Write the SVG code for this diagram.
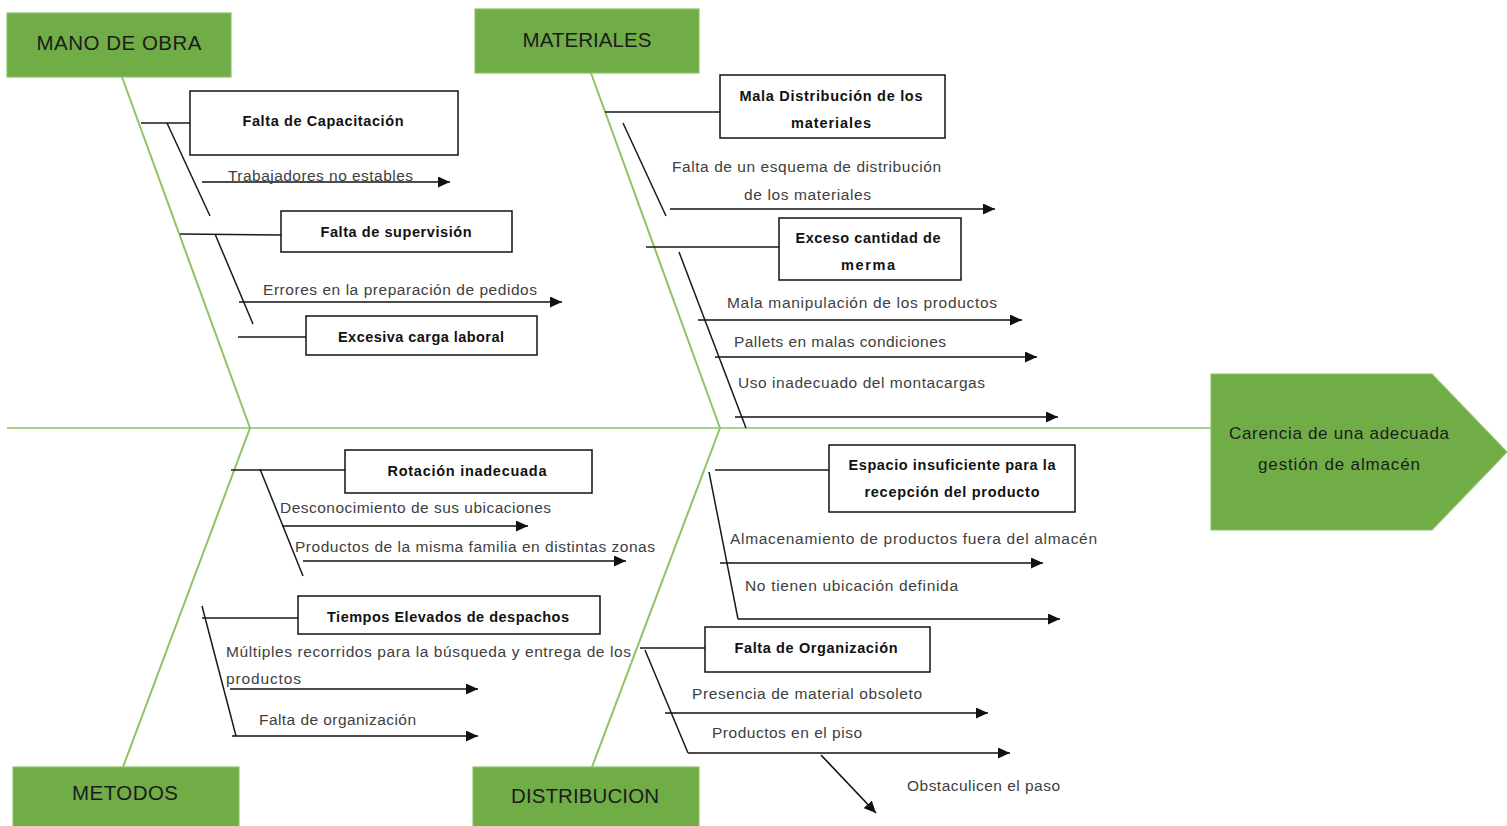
<svg xmlns="http://www.w3.org/2000/svg" width="1507" height="826" viewBox="0 0 1507 826">
<style>
.cat{fill:#70AD47;stroke:#8CC266;stroke-width:1.2}
.cattxt{font-family:"Liberation Sans",Arial,sans-serif;font-size:20.5px;fill:#1c1c1c;text-anchor:middle}
.headtxt{font-family:"Liberation Sans",Arial,sans-serif;font-size:17px;fill:#1c1c1c;text-anchor:middle}
.box{fill:#ffffff;stroke:#111111;stroke-width:1.5}
.btxt{font-family:"Liberation Sans",Arial,sans-serif;font-size:14.5px;font-weight:bold;fill:#111111;text-anchor:middle}
.ntxt{font-family:"Liberation Sans",Arial,sans-serif;font-size:15.5px;fill:#404040}
.bone{stroke:#8EC465;stroke-width:2;fill:none}
.spine{stroke:#A8D18C;stroke-width:2;fill:none}
.sub{stroke:#1a1a1a;stroke-width:1.5;fill:none}
.arr{stroke:#111111;stroke-width:1.6;fill:none;marker-end:url(#ah)}
</style>
<defs>
<marker id="ah" markerUnits="userSpaceOnUse" markerWidth="13" markerHeight="11" refX="12" refY="5.5" orient="auto">
<path d="M0,0 L12,5.5 L0,11 Z" fill="#111111"/>
</marker>
</defs>
<rect x="0" y="0" width="1507" height="826" fill="#ffffff"/>

<g id="connectors">
<line class="spine" x1="7" y1="428" x2="1211" y2="428"/>
<line class="bone" x1="122" y1="77" x2="250" y2="428"/>
<line class="bone" x1="250" y1="428" x2="123" y2="767"/>
<line class="bone" x1="591" y1="73" x2="720" y2="428"/>
<line class="bone" x1="720" y1="428" x2="592" y2="767"/>

<line class="sub" x1="141" y1="123" x2="190" y2="123"/>
<line class="sub" x1="167" y1="123" x2="210" y2="216"/>
<line class="arr" x1="202" y1="182" x2="450" y2="182"/>
<line class="sub" x1="180" y1="234" x2="281" y2="235"/>
<line class="sub" x1="215" y1="234" x2="253" y2="324"/>
<line class="arr" x1="239" y1="302" x2="562" y2="302"/>
<line class="sub" x1="238" y1="337" x2="306" y2="337"/>

<line class="sub" x1="605" y1="112" x2="720" y2="112"/>
<line class="sub" x1="623" y1="123" x2="666" y2="216"/>
<line class="arr" x1="670" y1="209" x2="995" y2="209"/>
<line class="sub" x1="646" y1="247" x2="779" y2="247"/>
<line class="sub" x1="679" y1="252" x2="746" y2="428"/>
<line class="arr" x1="698" y1="320" x2="1022" y2="320"/>
<line class="arr" x1="715" y1="357" x2="1037" y2="357"/>
<line class="arr" x1="735" y1="417" x2="1058" y2="417"/>

<line class="sub" x1="231" y1="470" x2="345" y2="470"/>
<line class="sub" x1="260" y1="469" x2="303" y2="576"/>
<line class="arr" x1="282" y1="526" x2="528" y2="526"/>
<line class="arr" x1="303" y1="561" x2="626" y2="561"/>
<line class="sub" x1="202" y1="618" x2="298" y2="618"/>
<line class="sub" x1="202" y1="606" x2="236" y2="736"/>
<line class="arr" x1="230" y1="689" x2="478" y2="689"/>
<line class="arr" x1="232" y1="736" x2="478" y2="736"/>

<line class="sub" x1="715" y1="470" x2="829" y2="470"/>
<line class="sub" x1="709" y1="472" x2="738" y2="619"/>
<line class="arr" x1="720" y1="563" x2="1043" y2="563"/>
<line class="arr" x1="738" y1="619" x2="1060" y2="619"/>
<line class="sub" x1="640" y1="648" x2="705" y2="648"/>
<line class="sub" x1="645" y1="650" x2="688" y2="753"/>
<line class="arr" x1="665" y1="713" x2="988" y2="713"/>
<line class="arr" x1="688" y1="753" x2="1010" y2="753"/>
<line class="arr" x1="821" y1="755" x2="876" y2="813"/>
</g>

<g id="cat-mano-de-obra">
<rect class="cat" x="7" y="13" width="224" height="64"/>
<text class="cattxt" x="119" y="50" textLength="165">MANO DE OBRA</text>
</g>
<g id="cat-materiales">
<rect class="cat" x="475" y="9" width="224" height="64"/>
<text class="cattxt" x="587" y="47" textLength="129">MATERIALES</text>
</g>
<g id="cat-metodos">
<rect class="cat" x="13" y="767" width="226" height="62"/>
<text class="cattxt" x="125" y="800" textLength="106">METODOS</text>
</g>
<g id="cat-distribucion">
<rect class="cat" x="473" y="767" width="226" height="62"/>
<text class="cattxt" x="585" y="803" textLength="148">DISTRIBUCION</text>
</g>

<g id="head">
<polygon class="cat" points="1211,374 1432,374 1507,452 1432,530 1211,530"/>
<text class="headtxt" x="1339" y="439" textLength="220">Carencia de una adecuada</text>
<text class="headtxt" x="1339" y="470" textLength="162">gestión de almacén</text>
</g>

<g id="box-falta-capacitacion">
<rect class="box" x="190" y="91" width="268" height="64"/>
<text class="btxt" x="323" y="126" textLength="161">Falta de Capacitación</text>
</g>
<g id="box-falta-supervision">
<rect class="box" x="281" y="211" width="231" height="41"/>
<text class="btxt" x="396" y="237" textLength="151">Falta de supervisión</text>
</g>
<g id="box-excesiva-carga">
<rect class="box" x="306" y="316" width="231" height="39"/>
<text class="btxt" x="421" y="342" textLength="166">Excesiva carga laboral</text>
</g>
<g id="box-mala-distribucion">
<rect class="box" x="720" y="75" width="225" height="63"/>
<text class="btxt" x="831" y="101" textLength="183">Mala Distribución de los</text>
<text class="btxt" x="831" y="128" textLength="80">materiales</text>
</g>
<g id="box-exceso-merma">
<rect class="box" x="779" y="218" width="182" height="62"/>
<text class="btxt" x="868" y="243" textLength="145">Exceso cantidad de</text>
<text class="btxt" x="868" y="270" textLength="54">merma</text>
</g>
<g id="box-rotacion">
<rect class="box" x="345" y="450" width="247" height="43"/>
<text class="btxt" x="467" y="476" textLength="159">Rotación inadecuada</text>
</g>
<g id="box-tiempos">
<rect class="box" x="298" y="596" width="302" height="38"/>
<text class="btxt" x="448" y="622" textLength="242">Tiempos Elevados de despachos</text>
</g>
<g id="box-espacio">
<rect class="box" x="829" y="445" width="246" height="67"/>
<text class="btxt" x="952" y="470" textLength="207">Espacio insuficiente para la</text>
<text class="btxt" x="952" y="497" textLength="175">recepción del producto</text>
</g>
<g id="box-falta-organizacion">
<rect class="box" x="705" y="627" width="225" height="45"/>
<text class="btxt" x="816" y="653" textLength="163">Falta de Organización</text>
</g>

<g id="lbl-trabajadores"><text class="ntxt" x="228" y="181" textLength="185">Trabajadores no estables</text></g>
<g id="lbl-errores"><text class="ntxt" x="263" y="295" textLength="274">Errores en la preparación de pedidos</text></g>
<g id="lbl-esquema">
<text class="ntxt" x="672" y="172" textLength="269">Falta de un esquema de distribución</text>
<text class="ntxt" x="744" y="200" textLength="127">de los materiales</text>
</g>
<g id="lbl-manipulacion"><text class="ntxt" x="727" y="308" textLength="270">Mala manipulación de los productos</text></g>
<g id="lbl-pallets"><text class="ntxt" x="734" y="347" textLength="212">Pallets en malas condiciones</text></g>
<g id="lbl-montacargas"><text class="ntxt" x="738" y="388" textLength="247">Uso inadecuado del montacargas</text></g>
<g id="lbl-desconocimiento"><text class="ntxt" x="280" y="513" textLength="271">Desconocimiento de sus ubicaciones</text></g>
<g id="lbl-misma-familia"><text class="ntxt" x="295" y="552" textLength="360">Productos de la misma familia en distintas zonas</text></g>
<g id="lbl-multiples">
<text class="ntxt" x="226" y="657" textLength="405">Múltiples recorridos para la búsqueda y entrega de los</text>
<text class="ntxt" x="226" y="684" textLength="75">productos</text>
</g>
<g id="lbl-falta-org-metodos"><text class="ntxt" x="259" y="725" textLength="157">Falta de organización</text></g>
<g id="lbl-almacenamiento"><text class="ntxt" x="730" y="544" textLength="367">Almacenamiento de productos fuera del almacén</text></g>
<g id="lbl-ubicacion"><text class="ntxt" x="745" y="591" textLength="213">No tienen ubicación definida</text></g>
<g id="lbl-obsoleto"><text class="ntxt" x="692" y="699" textLength="230">Presencia de material obsoleto</text></g>
<g id="lbl-piso"><text class="ntxt" x="712" y="738" textLength="150">Productos en el piso</text></g>
<g id="lbl-obstaculicen"><text class="ntxt" x="907" y="791" textLength="153">Obstaculicen el paso</text></g>
</svg>
